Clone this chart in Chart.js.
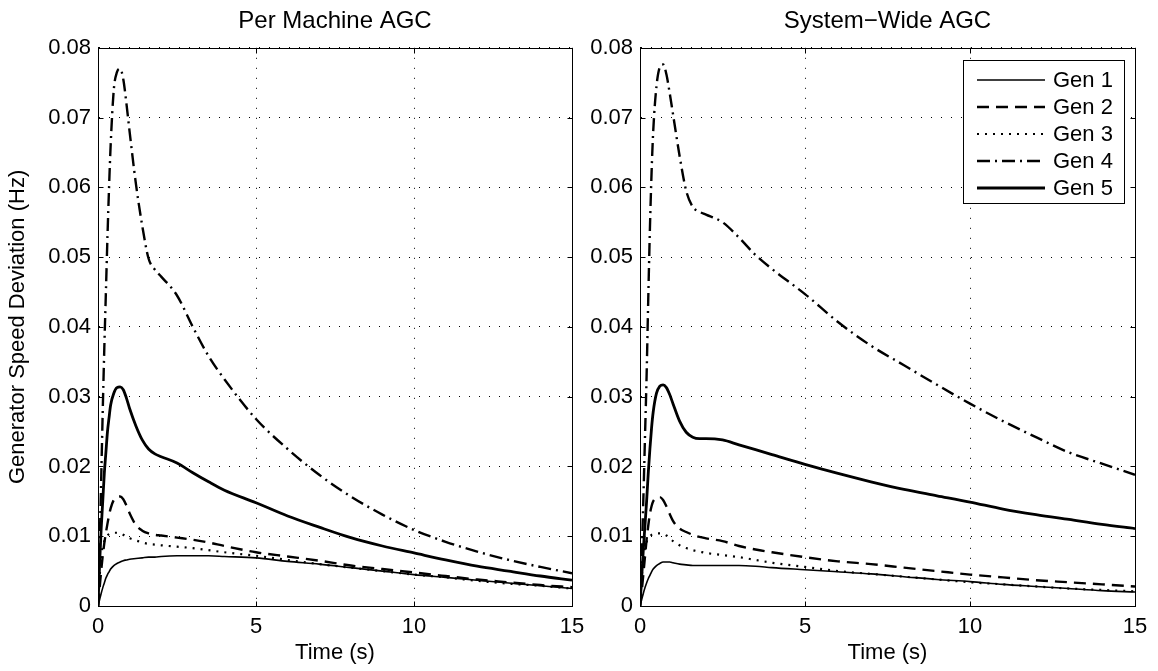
<!DOCTYPE html>
<html><head><meta charset="utf-8">
<script src="https://cdn.jsdelivr.net/npm/chart.js@4/dist/chart.umd.min.js"></script>
<style>
html,body{margin:0;padding:0;background:#fff;width:1158px;height:671px;overflow:hidden}
#c1{position:absolute;left:0;top:0}
#c2{position:absolute;left:560px;top:0}
</style></head><body>
<canvas id="c1" width="600" height="671"></canvas>
<canvas id="c2" width="598" height="671"></canvas>
<script>
const timeS = [0,0.05,0.1,0.15,0.2,0.25,0.3,0.35,0.4,0.5,0.6,0.7,0.8,0.9,1.0,1.2,1.4,1.6,1.8,2.0,2.5,3,3.5,4,5,6,7,8,9,10,11,12,13,14,15];

const perMachineGen1 = [0,0.0009,0.0018,0.0026,0.0033,0.004,0.0045,0.0049,0.0053,0.0058,0.0061,0.0063,0.0065,0.0066,0.0067,0.0068,0.0069,0.007,0.007,0.0071,0.0072,0.0072,0.0072,0.0071,0.0069,0.0064,0.006,0.0055,0.005,0.0045,0.0041,0.0037,0.0033,0.0029,0.0025];
const perMachineGen2 = [0,0.0025,0.005,0.0072,0.009,0.0105,0.0118,0.013,0.014,0.0152,0.0156,0.0157,0.0153,0.0144,0.0133,0.0116,0.0108,0.0104,0.0102,0.0101,0.0098,0.0095,0.0091,0.0086,0.0077,0.0071,0.0065,0.0058,0.0053,0.0048,0.0043,0.0038,0.0034,0.003,0.0027];
const perMachineGen3 = [0,0.004,0.007,0.0085,0.0093,0.0098,0.0101,0.0103,0.0104,0.0105,0.0105,0.0104,0.0102,0.0099,0.0097,0.0094,0.0091,0.0089,0.0088,0.0087,0.0085,0.0083,0.008,0.0077,0.0072,0.0066,0.006,0.0055,0.005,0.0045,0.0041,0.0036,0.0032,0.0029,0.0025];
const perMachineGen4 = [0,0.008,0.018,0.028,0.037,0.045,0.053,0.06,0.066,0.074,0.0765,0.077,0.0755,0.072,0.068,0.0605,0.0545,0.0498,0.0482,0.0472,0.0445,0.040,0.0358,0.0325,0.0268,0.0225,0.0188,0.0157,0.0131,0.0109,0.0092,0.0078,0.0066,0.0056,0.0047];
const perMachineGen5 = [0,0.006,0.011,0.015,0.019,0.022,0.025,0.027,0.0288,0.0305,0.0313,0.0314,0.031,0.0298,0.0283,0.0258,0.0238,0.0225,0.0218,0.0214,0.0205,0.0191,0.0178,0.0166,0.0148,0.0129,0.0113,0.0098,0.0086,0.0076,0.0066,0.0057,0.005,0.0043,0.0037];

const systemWideGen1 = [0,0.0009,0.0018,0.0026,0.0033,0.0039,0.0044,0.0049,0.0053,0.0058,0.0061,0.0063,0.0063,0.0063,0.0062,0.006,0.0059,0.0058,0.0058,0.0058,0.0058,0.0058,0.0057,0.0055,0.0052,0.0049,0.0046,0.0042,0.0038,0.0035,0.0031,0.0028,0.0025,0.0022,0.002];
const systemWideGen2 = [0,0.002,0.0045,0.007,0.0095,0.0115,0.0132,0.0143,0.015,0.0155,0.0156,0.0152,0.0143,0.0132,0.0122,0.0111,0.0106,0.0102,0.0099,0.0097,0.0093,0.0086,0.0081,0.0077,0.007,0.0064,0.006,0.0055,0.005,0.0045,0.0041,0.0037,0.0034,0.0031,0.0028];
const systemWideGen3 = [0,0.004,0.0068,0.0083,0.0092,0.0097,0.01,0.0102,0.0103,0.0104,0.0104,0.0103,0.0101,0.0097,0.0093,0.0087,0.0083,0.008,0.0078,0.0076,0.0073,0.007,0.0066,0.0062,0.0056,0.005,0.0046,0.0042,0.0038,0.0034,0.0031,0.0028,0.0025,0.0023,0.0021];
const systemWideGen4 = [0,0.007,0.015,0.024,0.033,0.044,0.054,0.062,0.068,0.0745,0.0772,0.0776,0.0762,0.0735,0.0705,0.0645,0.0595,0.0572,0.0565,0.0561,0.055,0.0528,0.0503,0.0483,0.0447,0.0407,0.0373,0.0345,0.0317,0.029,0.0265,0.0242,0.022,0.0204,0.0188];
const systemWideGen5 = [0,0.004,0.008,0.0115,0.015,0.019,0.0225,0.0255,0.0278,0.0305,0.0315,0.0317,0.0313,0.0303,0.029,0.0265,0.0249,0.0242,0.024,0.024,0.0238,0.0231,0.0224,0.0217,0.0203,0.019,0.0178,0.0167,0.0158,0.0149,0.0139,0.0131,0.0124,0.0117,0.0111];

const seriesNames = ['Gen 1','Gen 2','Gen 3','Gen 4','Gen 5'];
const xTickValues = [0,5,10,15];
const xTickLabels = ['0','5','10','15'];
const yTickValues = [0,0.01,0.02,0.03,0.04,0.05,0.06,0.07,0.08];
const yTickLabels = ['0','0.01','0.02','0.03','0.04','0.05','0.06','0.07','0.08'];
const panelTitles = ['Per Machine AGC','System\u2212Wide AGC'];
const xAxisTitle = 'Time (s)';
const yAxisTitle = 'Generator Speed Deviation (Hz)';

const FONT = '"Liberation Sans", Arial, Helvetica, sans-serif';
const lineStyles = [
  {borderWidth:1.6, borderDash:[]},
  {borderWidth:2.4, borderDash:[12,7]},
  {borderWidth:2.2, borderDash:[2,6]},
  {borderWidth:2.4, borderDash:[13,5,2,5]},
  {borderWidth:2.8, borderDash:[]}
];

const frameTicks = {
  id:'frameTicks',
  afterDatasetsDraw(chart){
    const {ctx, chartArea:a, scales:{x,y}} = chart;
    const L = Math.round(a.left)+0.5, R = Math.round(a.right)+0.5, T = Math.round(a.top)+0.5, B = Math.round(a.bottom)+0.5;
    ctx.save();
    ctx.strokeStyle='#000'; ctx.lineWidth=1; ctx.setLineDash([]);
    ctx.strokeRect(L, T, R-L, B-T);
    ctx.beginPath();
    x.ticks.forEach(t=>{ const p=Math.round(x.getPixelForValue(t.value))+0.5;
      ctx.moveTo(p,B); ctx.lineTo(p,B-5); ctx.moveTo(p,T); ctx.lineTo(p,T+5); });
    y.ticks.forEach(t=>{ const p=Math.round(y.getPixelForValue(t.value))+0.5;
      ctx.moveTo(L,p); ctx.lineTo(L+5,p); ctx.moveTo(R,p); ctx.lineTo(R-5,p); });
    ctx.stroke();
    ctx.restore();
  }
};

const insideLegend = {
  id:'insideLegend',
  afterDraw(chart, args, opts){
    if(!opts.show) return;
    const {ctx, chartArea:a} = chart;
    const ds = chart.data.datasets;
    const w = 161, rowH = 27;
    const h = 20 + (ds.length-1)*rowH + 15;
    const left = Math.round(a.right - 11 - w), top = Math.round(a.top + 12);
    ctx.save();
    ctx.fillStyle='#fff'; ctx.fillRect(left, top, w, h);
    ctx.strokeStyle='#000'; ctx.lineWidth=1; ctx.setLineDash([]);
    ctx.strokeRect(left+0.5, top+0.5, w, h);
    ctx.font = '22px ' + FONT; ctx.textBaseline='middle'; ctx.textAlign='left'; ctx.fillStyle='#000';
    ds.forEach((d,i)=>{
      const cy = top + 20 + i*rowH;
      ctx.beginPath(); ctx.setLineDash(d.borderDash||[]); ctx.lineWidth=d.borderWidth;
      ctx.moveTo(left+14, cy); ctx.lineTo(left+82, cy); ctx.stroke();
      ctx.setLineDash([]);
      ctx.fillText(d.label, left+90, cy+1);
    });
    ctx.restore();
  }
};

function makePanel(id, series, title, isLeft){
  const datasets = series.map((arr,i)=>({
    label: seriesNames[i],
    data: timeS.map((t,k)=>({x:t, y:arr[k]})),
    borderColor:'#000', backgroundColor:'#000',
    borderWidth: lineStyles[i].borderWidth,
    borderDash: lineStyles[i].borderDash,
    pointRadius:0, fill:false, cubicInterpolationMode:'monotone'
  }));
  const axisFont = {family:FONT, size:22};
  return new Chart(document.getElementById(id), {
    type:'line',
    data:{datasets},
    plugins:[frameTicks, insideLegend],
    options:{
      responsive:false, animation:false, devicePixelRatio:1,
      layout:{padding:{left:0, right: isLeft?28:23, top:0, bottom:0}},
      plugins:{
        legend:{display:false}, tooltip:{enabled:false},
        title:{display:true, text:title, fullSize:false, color:'#000',
          font:{family:FONT, size:24, weight:'normal'}, padding:{top:7, bottom:12}},
        insideLegend:{show:!isLeft}
      },
      scales:{
        x:{type:'linear', min:0, max:15,
          afterBuildTicks:s=>{ s.ticks = xTickValues.map(v=>({value:v})); },
          afterFit:s=>{ s.height = 65; },
          ticks:{callback:(v,i)=>xTickLabels[i], color:'#000', font:axisFont, padding:8, maxRotation:0, autoSkip:false},
          grid:{color:'#000', lineWidth:1, drawTicks:false},
          border:{display:true, color:'#000', width:1, dash:[1,9]},
          title:{display:true, text:xAxisTitle, color:'#000', font:axisFont, padding:{top:0, bottom:5}}
        },
        y:{type:'linear', min:0, max:0.08,
          afterBuildTicks:s=>{ s.ticks = yTickValues.map(v=>({value:v})); },
          afterFit:s=>{ s.width = isLeft ? 98 : 80; },
          ticks:{callback:(v,i)=>yTickLabels[i], color:'#000', font:axisFont, padding:7, autoSkip:false},
          grid:{color:'#000', lineWidth:1, drawTicks:false},
          border:{display:true, color:'#000', width:1, dash:[1,9]},
          title:{display:isLeft, text:yAxisTitle, color:'#000', font:axisFont, padding:{top:5, bottom:0}}
        }
      }
    }
  });
}

makePanel('c1', [perMachineGen1, perMachineGen2, perMachineGen3, perMachineGen4, perMachineGen5], panelTitles[0], true);
makePanel('c2', [systemWideGen1, systemWideGen2, systemWideGen3, systemWideGen4, systemWideGen5], panelTitles[1], false);
</script>
</body></html>
